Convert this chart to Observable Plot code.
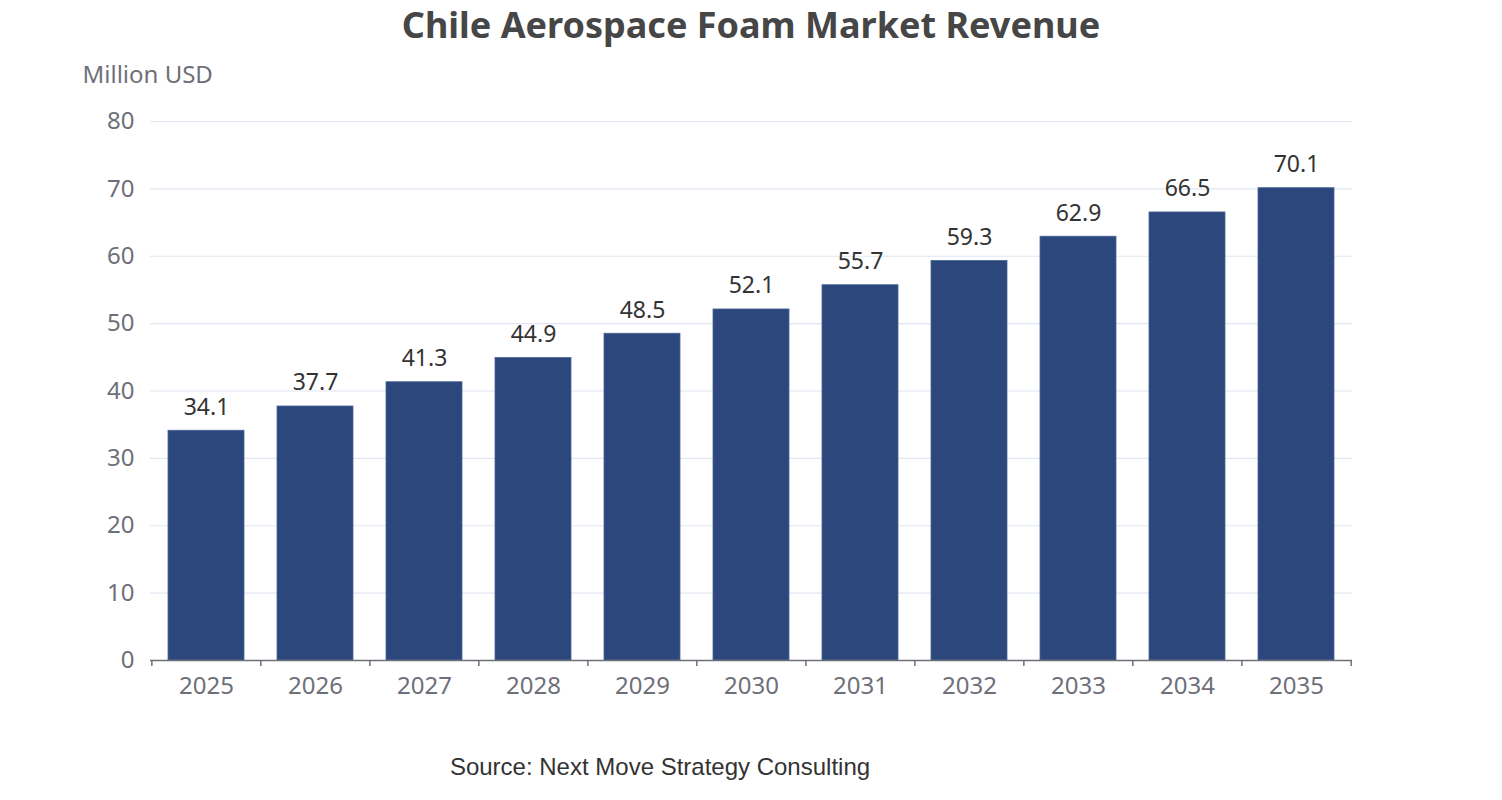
<!DOCTYPE html>
<html>
<head>
<meta charset="utf-8">
<script src="https://cdn.jsdelivr.net/npm/d3@7"></script>
<script src="https://cdn.jsdelivr.net/npm/@observablehq/plot@0.6"></script>
<style>
  html, body { margin: 0; padding: 0; background: #fff; }
  #wrap { position: relative; width: 1502px; height: 800px; overflow: hidden; }
  #title { position: absolute; top: 0; left: 0; width: 1502px; text-align: center;
    font-family: "Noto Sans", sans-serif; font-weight: bold; font-size: 36px; color: #464646; line-height: 50px; }
  #chart { position: absolute; top: 50px; left: 0; }
  #source { position: absolute; top: 752px; left: 0; width: 1320px; text-align: center;
    font-family: "Liberation Sans", Arial, sans-serif; font-size: 24px; color: #333; line-height: 30px; }
</style>
</head>
<body>
<div id="wrap">
  <div id="title">Chile Aerospace Foam Market Revenue</div>
  <div id="chart"></div>
  <div id="source">Source: Next Move Strategy Consulting</div>
</div>
<script>
const years = ["2025","2026","2027","2028","2029","2030","2031","2032","2033","2034","2035"];
const revenue = [34.1, 37.7, 41.3, 44.9, 48.5, 52.1, 55.7, 59.3, 62.9, 66.5, 70.1];
const yTicks = [0, 10, 20, 30, 40, 50, 60, 70, 80];
const yLabel = "Million USD";

const data = years.map((y, i) => ({year: y, value: revenue[i]}));

const W = 1502, H = 690, mL = 150, mR = 150, mT = 71, mB = 80;
const step = (W - mL - mR) / years.length;
const font = "'Noto Sans', sans-serif";

const chart = Plot.plot({
  width: W,
  height: H,
  marginLeft: mL,
  marginRight: mR,
  marginTop: mT,
  marginBottom: mB,
  style: {fontFamily: font, fontSize: "24px", color: "#6e7079", background: "#fff"},
  x: {domain: years, paddingInner: 0.3, paddingOuter: 0.15, label: null},
  y: {domain: [0, 80], ticks: yTicks, label: null},
  marks: [
    Plot.ruleY(yTicks.filter(d => d > 0), {stroke: "#e0e6f1", strokeWidth: 1.2}),
    Plot.barY(data, {x: "year", y: "value", fill: "#2c477c", stroke: "#4a6496", strokeWidth: 0.8}),
    Plot.ruleY([0], {stroke: "#6e7079", strokeWidth: 1.5}),
    Plot.ruleX(years, {x: d => d, dx: -step / 2, y1: 0, y2: 0, insetBottom: -6, stroke: "#6e7079", strokeWidth: 1.5}),
    Plot.ruleX(years.slice(-1), {x: d => d, dx: step / 2, y1: 0, y2: 0, insetBottom: -6, stroke: "#6e7079", strokeWidth: 1.5}),
    Plot.axisX({tickSize: 0, tickPadding: 16, fontSize: 24, fill: "#6e7079"}),
    Plot.axisY({ticks: yTicks, tickSize: 0, tickPadding: 16, fontSize: 24, fill: "#6e7079"}),
    Plot.text(data, {x: "year", y: "value", text: d => d.value.toFixed(1), lineAnchor: "bottom", dy: -16, fill: "#333", fontSize: 23}),
    Plot.text([yLabel], {frameAnchor: "top-left", text: d => d, dx: -68, dy: -56, textAnchor: "start", fill: "#6e7079", fontSize: 24})
  ]
});
document.getElementById("chart").appendChild(chart);
</script>
</body>
</html>
